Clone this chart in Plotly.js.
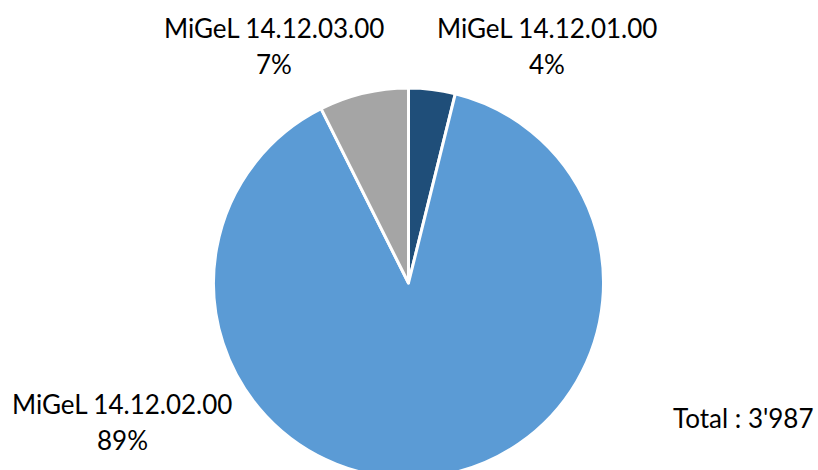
<!DOCTYPE html>
<html>
<head>
<meta charset="utf-8">
<script src="https://cdn.plot.ly/plotly-3.0.1.min.js"></script>
<style>
html,body{margin:0;padding:0;overflow:hidden;background:#fff;width:818px;height:470px;}
#chart{width:818px;height:500px;}
</style>
</head>
<body>
<div id="chart"></div>
<script>
const categories = ["MiGeL 14.12.01.00", "MiGeL 14.12.02.00", "MiGeL 14.12.03.00"];
const values = [154, 3538, 295];
const colors = ["#1F4E79", "#5B9BD5", "#A5A5A5"];
const totalLabel = "Total : 3'987";

const W = 818, H = 500;
const total = values.reduce((a, b) => a + b, 0);
const pct = values.map(v => Math.round(v / total * 100) + "%");

const font = {family: "Lato, 'Open Sans', sans-serif", size: 26, color: "#000000"};
function py(p) { return 1 - p / H; }
function px(p) { return p / W; }

// label positions (pixel) for each category: [x, yLine1, yLine2]
const labelPos = [[547, 28, 64], [122, 404, 440], [274, 28, 64]];

const annotations = [];
categories.forEach((c, i) => {
  const [x, y1, y2] = labelPos[i];
  annotations.push({text: c, x: px(x), y: py(y1), xref: "paper", yref: "paper",
    xanchor: "center", yanchor: "middle", showarrow: false, font: font});
  annotations.push({text: pct[i], x: px(x), y: py(y2), xref: "paper", yref: "paper",
    xanchor: "center", yanchor: "middle", showarrow: false, font: font});
});
annotations.push({text: totalLabel, x: px(743), y: py(418), xref: "paper", yref: "paper",
  xanchor: "center", yanchor: "middle", showarrow: false, font: font});

const trace = {
  type: "pie",
  labels: categories,
  values: values,
  sort: false,
  direction: "clockwise",
  rotation: 0,
  textinfo: "none",
  hoverinfo: "skip",
  marker: {colors: colors, line: {color: "#ffffff", width: 3}},
  domain: {x: [213.5 / W, 603.5 / W], y: [1 - 478 / H, 1 - 88 / H]},
  showlegend: false
};

Plotly.newPlot("chart", [trace], {
  width: W, height: H,
  margin: {l: 0, r: 0, t: 0, b: 0},
  paper_bgcolor: "#ffffff",
  showlegend: false,
  annotations: annotations
}, {staticPlot: true});
</script>
</body>
</html>
